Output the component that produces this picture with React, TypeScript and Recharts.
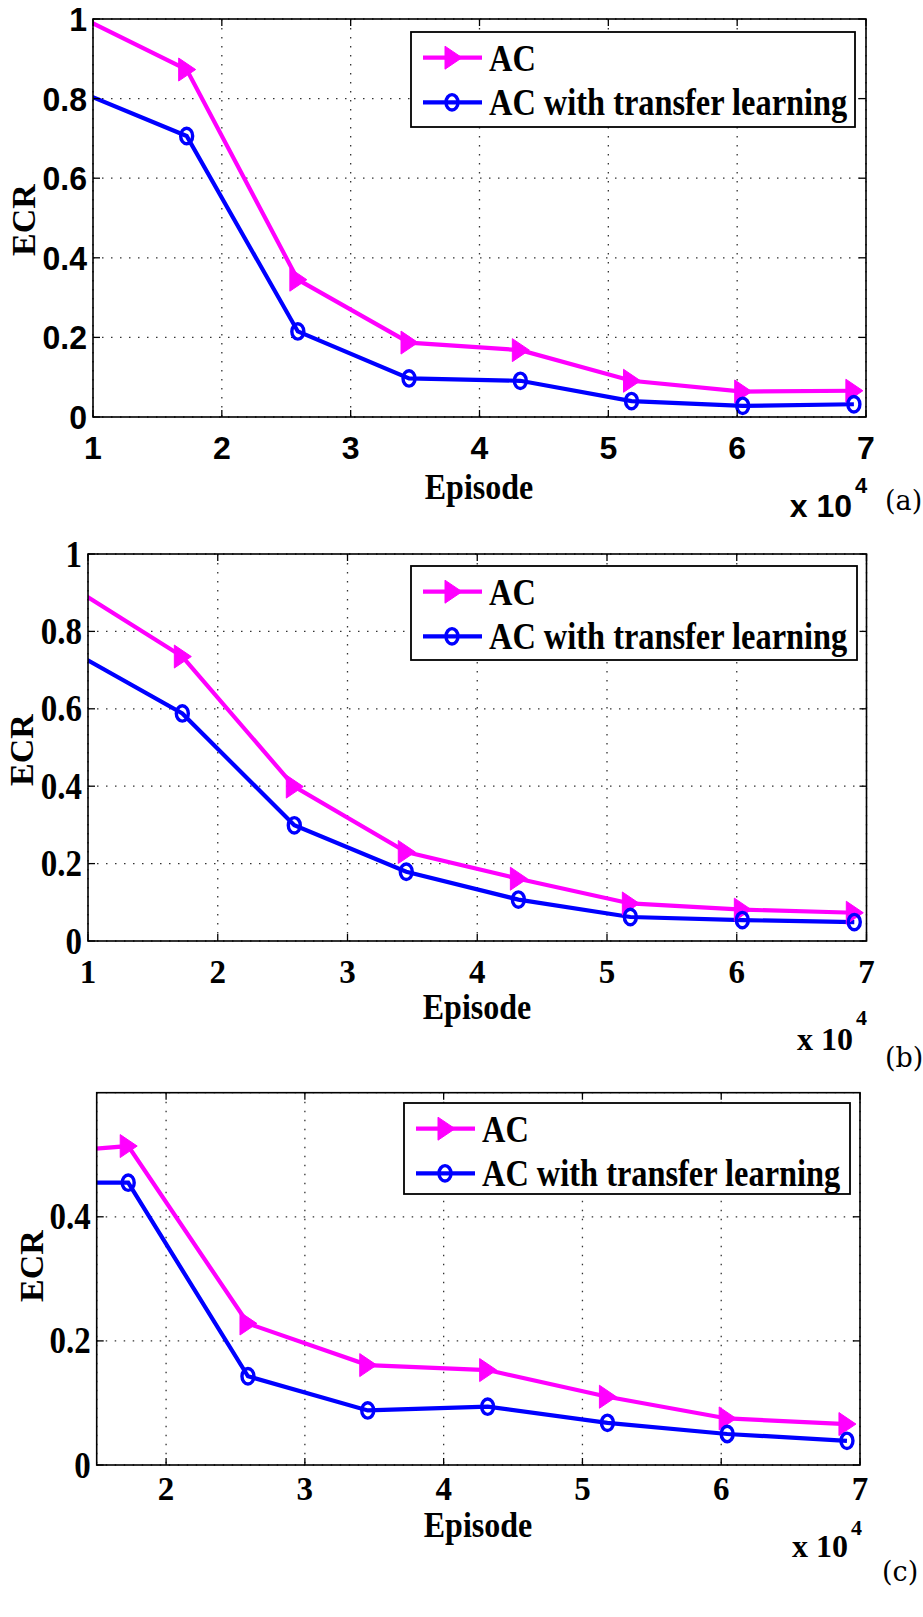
import { LineChart, Line, XAxis, YAxis, CartesianGrid } from "recharts";

// episode positions (x 10^4); the first point sits left of the visible axis range
const episodes = [0.863, 1.727, 2.59, 3.453, 4.317, 5.18, 6.043, 6.906];

const xTicksAB = [1, 2, 3, 4, 5, 6, 7];
const xTicksC = [2, 3, 4, 5, 6, 7];
const yTicksAB = [0, 0.2, 0.4, 0.6, 0.8, 1];
const yTicksC = [0, 0.2, 0.4];

const acA = [1.011, 0.873, 0.345, 0.187, 0.168, 0.091, 0.064, 0.066];
const tlA = [0.822, 0.706, 0.215, 0.097, 0.091, 0.04, 0.028, 0.032];

const acB = [0.917, 0.735, 0.399, 0.23, 0.161, 0.097, 0.081, 0.073];
const tlB = [0.751, 0.588, 0.299, 0.179, 0.107, 0.062, 0.054, 0.049];

const acC = [0.499, 0.514, 0.228, 0.161, 0.153, 0.11, 0.075, 0.066];
const tlC = [0.455, 0.455, 0.143, 0.088, 0.094, 0.068, 0.05, 0.039];

const seriesNames = ["AC", "AC with transfer learning"];

const W = 923;
const MAGENTA = "#FF00FF";
const BLUE = "#0000FF";
const SERIF = "'Liberation Serif', 'Times New Roman', serif";
const SANS = "'Liberation Sans', Arial, sans-serif";

type Cfg = {
  tag: string;
  top: number;
  h: number;
  plot: { l: number; t: number; r: number; b: number };
  xDomain: [number, number];
  xTicks: number[];
  yDomain: [number, number];
  yTicks: number[];
  ac: number[];
  tl: number[];
  tickFont: string;
  tickSy: number;
  xLabelY: number;
  ecr: [number, number];
  episode: [number, number];
  expo: { x: number; y: number; supY: number };
  tagPos: [number, number];
  legend: { x: number; y: number; w: number; h: number };
};

const panels: Cfg[] = [
  {
    tag: "(a)",
    top: 0,
    h: 530,
    plot: { l: 93, t: 19, r: 866, b: 417 },
    xDomain: [1, 7],
    xTicks: xTicksAB,
    yDomain: [0, 1],
    yTicks: yTicksAB,
    ac: acA,
    tl: tlA,
    tickFont: SANS,
    tickSy: 1.05,
    xLabelY: 459,
    ecr: [35, 220],
    episode: [479, 499],
    expo: { x: 852, y: 517, supY: 493 },
    tagPos: [885, 510],
    legend: { x: 411, y: 32, w: 444, h: 95 },
  },
  {
    tag: "(b)",
    top: 520,
    h: 540,
    plot: { l: 88, t: 554, r: 866.5, b: 941 },
    xDomain: [1, 7],
    xTicks: xTicksAB,
    yDomain: [0, 1],
    yTicks: yTicksAB,
    ac: acB,
    tl: tlB,
    tickFont: SERIF,
    tickSy: 1.12,
    xLabelY: 983,
    ecr: [33, 750],
    episode: [477, 1019],
    expo: { x: 853, y: 1050, supY: 1025 },
    tagPos: [885, 1067],
    legend: { x: 411, y: 566, w: 446, h: 94 },
  },
  {
    tag: "(c)",
    top: 1060,
    h: 557,
    plot: { l: 96.7, t: 1092.7, r: 860, b: 1465 },
    xDomain: [1.5, 7],
    xTicks: xTicksC,
    yDomain: [0, 0.6],
    yTicks: yTicksC,
    ac: acC,
    tl: tlC,
    tickFont: SERIF,
    tickSy: 1.12,
    xLabelY: 1500,
    ecr: [43, 1266],
    episode: [478, 1537],
    expo: { x: 848, y: 1557, supY: 1535 },
    tagPos: [882, 1581],
    legend: { x: 404, y: 1103, w: 446, h: 91 },
  },
];

const fmt = (v: number) => String(v);

const Triangle = ({ cx, cy, color }: { cx: number; cy: number; color: string }) => (
  <polygon
    points={`${cx - 8},${cy - 11.5} ${cx - 8},${cy + 11.5} ${cx + 9},${cy}`}
    fill={color}
    stroke={color}
    strokeWidth={1}
  />
);

const Ring = ({ cx, cy, color }: { cx: number; cy: number; color: string }) => (
  <ellipse cx={cx} cy={cy} rx={6} ry={7.7} fill="none" stroke={color} strokeWidth={3.4} />
);

const Panel = ({ cfg }: { cfg: Cfg }) => {
  const { plot, top, h } = cfg;
  const lt = plot.t - top;
  const lb = plot.b - top;
  const XH = 30;
  const data = episodes.map((x, i) => ({ x, ac: cfg.ac[i], tl: cfg.tl[i] }));
  const sy = cfg.tickSy;
  const fs = cfg.tickFont === SANS ? 32 : 33;
  const capHalf = (cfg.tickFont === SANS ? 0.36 : 0.34) * fs * sy;

  const renderXTick = (p: any) => {
    const x = p.x;
    return (
      <g key={`xt-${p.payload.value}`}>
        <text
          x={x}
          y={cfg.xLabelY - top}
          textAnchor="middle"
          fontFamily={cfg.tickFont}
          fontWeight="bold"
          fontSize={fs}
          fill="#000"
        >
          {fmt(p.payload.value)}
        </text>
        <line x1={x} x2={x} y1={lb} y2={lb - 7} stroke="#000" strokeWidth={1.3} />
        <line x1={x} x2={x} y1={lt} y2={lt + 7} stroke="#000" strokeWidth={1.3} />
      </g>
    );
  };

  const renderYTick = (p: any) => {
    const y = p.y;
    return (
      <g key={`yt-${p.payload.value}`}>
        <text
          transform={`translate(${plot.l - 6},${y + capHalf}) scale(1,${sy})`}
          textAnchor="end"
          fontFamily={cfg.tickFont}
          fontWeight="bold"
          fontSize={fs}
          fill="#000"
        >
          {fmt(p.payload.value)}
        </text>
        <line x1={plot.l} x2={plot.l + 7} y1={y} y2={y} stroke="#000" strokeWidth={1.3} />
        <line x1={plot.r} x2={plot.r - 7} y1={y} y2={y} stroke="#000" strokeWidth={1.3} />
      </g>
    );
  };

  const renderTri = (p: any) => {
    if (p.cx == null || p.payload.x < cfg.xDomain[0]) return <g key={`t-${p.index}`} />;
    return <Triangle key={`t-${p.index}`} cx={p.cx} cy={p.cy} color={MAGENTA} />;
  };

  const renderRing = (p: any) => {
    if (p.cx == null || p.payload.x < cfg.xDomain[0]) return <g key={`c-${p.index}`} />;
    return <Ring key={`c-${p.index}`} cx={p.cx} cy={p.cy} color={BLUE} />;
  };

  const lg = cfg.legend;
  const lgY = lg.y - top;
  const rows = [
    { name: seriesNames[0], color: MAGENTA, kind: "tri", ly: 25.7, ty: 39 },
    { name: seriesNames[1], color: BLUE, kind: "ring", ly: 70.3, ty: 83 },
  ];
  const expoFont = cfg.tickFont;

  return (
    <div style={{ position: "absolute", left: 0, top, width: W, height: h }}>
      <LineChart
        width={W}
        height={h}
        data={data}
        margin={{ top: lt, right: W - plot.r, left: 0, bottom: h - lb - XH }}
      >
        <CartesianGrid stroke="#333" strokeDasharray="1.5 7.5" strokeWidth={1.3} />
        <XAxis
          type="number"
          dataKey="x"
          domain={cfg.xDomain}
          ticks={cfg.xTicks}
          allowDataOverflow
          axisLine={false}
          tickLine={false}
          height={XH}
          interval={0}
          tick={renderXTick}
        />
        <YAxis
          type="number"
          domain={cfg.yDomain}
          ticks={cfg.yTicks}
          allowDataOverflow
          axisLine={false}
          tickLine={false}
          width={plot.l}
          interval={0}
          tick={renderYTick}
        />
        <Line
          type="linear"
          dataKey="ac"
          name={seriesNames[0]}
          stroke={MAGENTA}
          strokeWidth={4.2}
          dot={renderTri}
          activeDot={false}
          isAnimationActive={false}
        />
        <Line
          type="linear"
          dataKey="tl"
          name={seriesNames[1]}
          stroke={BLUE}
          strokeWidth={4.2}
          dot={renderRing}
          activeDot={false}
          isAnimationActive={false}
        />
      </LineChart>
      <svg
        width={W}
        height={h}
        style={{ position: "absolute", left: 0, top: 0, pointerEvents: "none", overflow: "visible" }}
      >
        <rect
          x={plot.l}
          y={lt}
          width={plot.r - plot.l}
          height={lb - lt}
          fill="none"
          stroke="#000"
          strokeWidth={1.6}
        />
        <g>
          <rect x={lg.x} y={lgY} width={lg.w} height={lg.h} fill="#fff" stroke="#000" strokeWidth={1.8} />
          {rows.map((r) => (
            <g key={r.name}>
              <line
                x1={lg.x + 12}
                x2={lg.x + 71}
                y1={lgY + r.ly}
                y2={lgY + r.ly}
                stroke={r.color}
                strokeWidth={4.2}
              />
              {r.kind === "tri" ? (
                <Triangle cx={lg.x + 42} cy={lgY + r.ly} color={r.color} />
              ) : (
                <Ring cx={lg.x + 41} cy={lgY + r.ly} color={r.color} />
              )}
              <text
                transform={`translate(${lg.x + 78},${lgY + r.ty}) scale(1,1.2)`}
                fontFamily={SERIF}
                fontWeight="bold"
                fontSize={32.4}
                fill="#000"
              >
                {r.name}
              </text>
            </g>
          ))}
        </g>
        <text
          transform={`translate(${cfg.ecr[0]},${cfg.ecr[1] - top}) rotate(-90)`}
          textAnchor="middle"
          fontFamily={SERIF}
          fontWeight="bold"
          fontSize={34}
          fill="#000"
        >
          ECR
        </text>
        <text
          transform={`translate(${cfg.episode[0]},${cfg.episode[1] - top}) scale(1,1.1)`}
          textAnchor="middle"
          fontFamily={SERIF}
          fontWeight="bold"
          fontSize={32}
          fill="#000"
        >
          Episode
        </text>
        <text
          x={cfg.expo.x}
          y={cfg.expo.y - top}
          textAnchor="end"
          fontFamily={expoFont}
          fontWeight="bold"
          fontSize={32}
          fill="#000"
        >
          x 10
        </text>
        <text
          x={cfg.expo.x + 3}
          y={cfg.expo.supY - top}
          fontFamily={expoFont}
          fontWeight="bold"
          fontSize={22}
          fill="#000"
        >
          4
        </text>
        <text
          x={cfg.tagPos[0]}
          y={cfg.tagPos[1] - top}
          fontFamily="'DejaVu Serif', serif"
          fontSize={27}
          fill="#000"
        >
          {cfg.tag}
        </text>
      </svg>
    </div>
  );
}

export default function App() {
  return (
    <div style={{ position: "absolute", left: 0, top: 0, width: W, height: 1617, background: "#fff" }}>
      {panels.map((cfg) => (
        <Panel key={cfg.tag} cfg={cfg} />
      ))}
    </div>
  );
}
